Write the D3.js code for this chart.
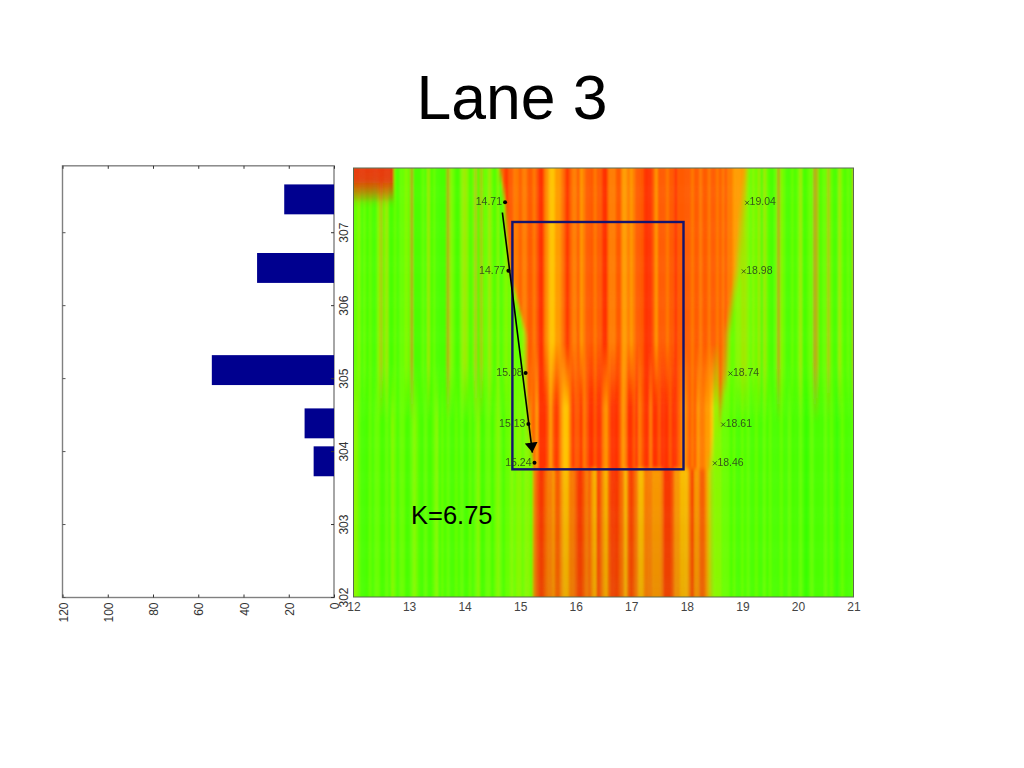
<!DOCTYPE html>
<html><head><meta charset="utf-8">
<script src="https://cdn.jsdelivr.net/npm/d3@7/dist/d3.min.js"></script>
<style>html,body{margin:0;padding:0;background:#fff}svg{display:block}text{font-family:"Liberation Sans",Arial,sans-serif}</style>
</head><body><div id="c"></div>
<script>
const chartTitle = "Lane 3";
const slopeLabel = "K=6.75";
const barTicks = [0,20,40,60,80,100,120];
const yTicks = [302,303,304,305,306,307];
const xTicks = [12,13,14,15,16,17,18,19,20,21];
const barPositions = [307.45,306.51,305.11,304.38,303.86];
const barValues = [22,34,54,13,9];
const barThickness = 0.41;
const leftEdgeY = [307.41,306.47,305.07,304.37,303.84];
const leftEdgeX = [14.71,14.77,15.08,15.13,15.24];
const rightEdgeX = [19.04,18.98,18.74,18.61,18.46];
const boxX = [14.86,17.94];
const boxY = [303.75,307.14];
const arrowFrom = [14.68,307.27];
const arrowTo = [15.22,303.98];
// band outline used by the heat field
const bandY = [307.88,307.41,306.47,305.6,305.07,304.37,303.84,302];
const bandLeft = [14.6,14.7,14.78,15.07,15.07,15.13,15.2,15.2];
const bandRight = [19.15,19.08,18.98,18.8,18.76,18.62,18.5,18.5];
// stripes, 0.05 apart
const greenUpperL = [2,2,3,1,2,1,2,1,1,3,5,2,4,1,1,2,1,2,2,3,2,6,1,1,1,2,1,4,1,2,1,1,1,1,6,3,2,1,1,3,4,3,1,2,5,1,5,2,2,4,2,1,3,1,2,3,2,3,2,2,2,3,3,3,3,3];
const greenUpperR = [2,2,2,2,2,3,3,3,2,2,3,3,4,4,3,2,3,2,4,1,4,2,1,1,2,6,3,2,1,1,2,1,2,4,1,1,2,2,6,5,1,2,2,5,2,1,1,4,2,1,2,1,5,2,2,4];
const greenLowerL = [3,3,2,1,1,1,2,1,2,2,1,1,2,1,3,2,1,2,2,1,1,2,3,2,1,1,2,1,1,2,3,1,2,1,2,1,1,2,1,2,1,1,2,1,2,3,1,1,2,2,1,2,3,2,1,2,2,3,2,3,3,2,3,3,2,3];
const greenLowerR = [3,3,3,3,3,2,2,2,1,2,1,1,2,1,2,1,1,2,1,1,2,1,2,1,1,1,2,1,1,2,1,1,1,2,1,0,1,2,1,1,1,1,2,1,2,1,0,1,2,1,1,1,2,1,1,3];
const redTop = [6,7,7,8,8,9,8,8,7,7,8,7,7,8,8,7,8,9,9,7,6,5,5,6,6,7,8,9,8,7,7,8,6,7,8,8,8,7,8,8,9,9,7,7,7,8,8,6,6,7,6,7,8,8,8,9,9,9,8,6,8,8,8,7,8,8,9,8,8,8,8,8,7,8,8,7,8,8,7,8,8,7,8,7,8,7,7,6,6,6,6,6,4];
const redMid = [7,8,6,9,9,9,8,6,8,9,8,6,5,5,7,9,8,8,9,7,8,9,9,8,9,9,7,6,8,9,9,9,8,6,7,9,9,8,9,7,8,9,9,7,9,9,8,9,9,9,8,9,9,8,7,6,7,8,7,8,6,7,7,6,6,5,3];
const redLow = [7,7,8,9,9,8,7,7,6,8,8,6,5,5,7,7,8,9,9,8,7,8,6,5,9,8,6,5,8,9,9,9,8,7,5,8,9,8,7,5,5,7,7,7,6,6,6,7,9,9,9,8,6,6,5,5,5,7,9,6,6,8,8,6,5,4,3];
const patchY = [307.88,307.72,307.6,307.5,307.38];
const patchMix = [1,0.95,0.72,0.42,0];
const patchEndX = 12.75;
const hotColors = ["#20ff00","#48ff00","#78ff00","#a0ee00","#c8c400","#ffc400","#ff9c00","#ff7c00","#ff5a00","#ff3000"];
const greenColors = ["#30ff00","#48ff00","#68ff00","#88f800","#a0e800","#b0c810","#b8a418"];

const W=1024,H=768;
const svg=d3.select("#c").append("svg").attr("width",W).attr("height",H);
svg.append("text").attr("x",512).attr("y",119).attr("text-anchor","middle").attr("font-size",62.5).attr("fill","#000").text(chartTitle);

const x=d3.scaleLinear().domain([12,21]).range([353.5,853.5]);
const y=d3.scaleLinear().domain([302,307.88]).range([597,168]);
const bx=d3.scaleLinear().domain([0,120]).range([334,62.5]);
const barTop=y(307.91);

// ---- bar panel
svg.append("rect").attr("x",bx(120)).attr("y",barTop).attr("width",bx(0)-bx(120)).attr("height",y(302)+.5-barTop)
  .attr("fill","#fff").attr("stroke","#808080").attr("stroke-width",1.4);
svg.selectAll(".bar").data(barValues).join("rect").attr("class","bar")
  .attr("x",d=>bx(d)).attr("width",d=>bx(0)-bx(d))
  .attr("y",(d,i)=>y(barPositions[i]+barThickness/2))
  .attr("height",y(0)-y(barThickness)).attr("fill","#00008f");

const axisText=g=>g.selectAll("text").attr("fill","#333").attr("font-size",12).attr("font-family","Liberation Sans, Arial, sans-serif");
const gBarX=svg.append("g").attr("transform",`translate(0,${y(302)+.5})`)
  .call(d3.axisBottom(bx).tickValues(barTicks).tickFormat(d3.format("d")).tickSize(-3).tickPadding(0));
gBarX.select(".domain").remove(); gBarX.selectAll("line").attr("stroke","#333");
axisText(gBarX); gBarX.selectAll("text").attr("text-anchor","end").attr("dy",0).attr("y",0).attr("x",0)
  .attr("transform","translate(4.5,5) rotate(-90)");
const gBarTop=svg.append("g").attr("transform",`translate(0,${barTop})`)
  .call(d3.axisTop(bx).tickValues(barTicks).tickFormat("").tickSize(-3));
gBarTop.select(".domain").remove(); gBarTop.selectAll("line").attr("stroke","#333");
const gBarY=svg.append("g").attr("transform",`translate(${bx(0)},0)`)
  .call(d3.axisRight(y).tickValues(yTicks).tickFormat(d3.format("d")).tickSize(-3));
gBarY.select(".domain").remove(); gBarY.selectAll("line").attr("stroke","#333");
axisText(gBarY); gBarY.selectAll("text").attr("text-anchor","middle").attr("x",0).attr("y",0).attr("dy",0)
  .attr("transform","translate(14,0) rotate(-90)");
const gBarL=svg.append("g").attr("transform",`translate(${bx(120)},0)`)
  .call(d3.axisLeft(y).tickValues(yTicks).tickFormat("").tickSize(-3));
gBarL.select(".domain").remove(); gBarL.selectAll("line").attr("stroke","#555");

// ---- heat field
const hot=d3.scaleLinear().domain(d3.range(hotColors.length)).range(hotColors).interpolate(d3.interpolateRgb);
const grn=d3.scaleLinear().domain(d3.range(greenColors.length)).range(greenColors).interpolate(d3.interpolateRgb);
const L=d3.scaleLinear().domain(bandY).range(bandLeft).clamp(true);
const R=d3.scaleLinear().domain(bandY).range(bandRight).clamp(true);
const P=d3.scaleLinear().domain(patchY).range(patchMix).clamp(true);
const pick=(arr,start,v)=>arr[Math.max(0,Math.min(arr.length-1,Math.round((v-start)/0.05)))];
const clamp01=t=>Math.max(0,Math.min(1,t));
const muted=(c,t)=>d3.interpolateRgb(c,"#b87010")(t);
function heat(vx,vy){
  const gu=grn(pick(vx<17?greenUpperL:greenUpperR,vx<17?12:18.4,vx));
  const gl=grn(pick(vx<17?greenLowerL:greenLowerR,vx<17?12:18.4,vx));
  const green=d3.interpolateRgb(gl,gu)(clamp01((vy-304.4)/0.8));
  let red;
  if(vy<303.78){
    red=muted(hot(pick(redLow,15.2,vx)),0.08+0.22*(303.78-vy)/1.78);
  }else{
    const top=hot(pick(redTop,14.5,vx));
    const mid=(vx>=15.2&&vx<=18.55)?hot(pick(redMid,15.2,vx)):top;
    red=d3.interpolateRgb(mid,top)(clamp01((vy-304.6)/0.9));
  }
  const w=Math.min(clamp01((vx-L(vy))/0.06),clamp01((R(vy)-vx)/0.14));
  let c=d3.interpolateRgb(green,red)(w);
  if(vx<patchEndX){ const m=P(vy); if(m>0) c=d3.interpolateRgb(c,"#e83a08")(m); }
  return c;
}
const cols=d3.range(11.95,21.05,0.05), rows=d3.range(301.96,307.96,0.08);
const cells=[]; rows.forEach(r=>cols.forEach(c=>cells.push({c,r})));
const defs=svg.append("defs");
defs.append("clipPath").attr("id","hc").append("rect").attr("x",x(12)).attr("y",y(307.88)).attr("width",x(21)-x(12)).attr("height",y(302)-y(307.88));
defs.append("filter").attr("id","soft").attr("x","-2%").attr("y","-2%").attr("width","104%").attr("height","104%")
  .append("feGaussianBlur").attr("stdDeviation","0.8 2");
svg.append("g").attr("clip-path","url(#hc)").append("g").attr("filter","url(#soft)")
  .selectAll("rect").data(cells).join("rect")
  .attr("x",d=>x(d.c-0.025)).attr("width",x(0.05)-x(0)+0.4)
  .attr("y",d=>y(d.r+0.04)).attr("height",y(0)-y(0.08)+0.4)
  .attr("fill",d=>heat(d.c,d.r));
svg.append("rect").attr("x",x(12)).attr("y",y(307.88)).attr("width",x(21)-x(12)).attr("height",y(302)-y(307.88))
  .attr("fill","none").attr("stroke","#5a6a50").attr("stroke-width",1);
const gHeatX=svg.append("g").attr("transform",`translate(0,${y(302)})`)
  .call(d3.axisBottom(x).tickValues(xTicks).tickFormat(d3.format("d")).tickSize(0).tickPadding(5));
gHeatX.select(".domain").remove(); axisText(gHeatX); gHeatX.selectAll("text").attr("fill","#444").attr("y",14).attr("dy",0);

// ---- box, arrow, markers
const navy="#14146e";
svg.append("rect").attr("x",x(boxX[0])).attr("y",y(boxY[1])).attr("width",x(boxX[1])-x(boxX[0])).attr("height",y(boxY[0])-y(boxY[1]))
  .attr("fill","none").attr("stroke",navy).attr("stroke-width",2.4);
defs.append("marker").attr("id","ah").attr("viewBox","0 0 10 10").attr("refX",10).attr("refY",5).attr("markerWidth",10).attr("markerHeight",13)
  .attr("markerUnits","userSpaceOnUse").attr("orient","auto").attr("preserveAspectRatio","none")
  .append("path").attr("d","M0,0L10,5L0,10Z").attr("fill","#000");
svg.append("line").attr("x1",x(arrowFrom[0])).attr("y1",y(arrowFrom[1])).attr("x2",x(arrowTo[0])).attr("y2",y(arrowTo[1]))
  .attr("stroke","#000").attr("stroke-width",1.6).attr("marker-end","url(#ah)");

svg.selectAll(".ld").data(leftEdgeX).join("circle").attr("class","ld")
  .attr("cx",d=>x(d)+1).attr("cy",(d,i)=>y(leftEdgeY[i])).attr("r",2).attr("fill","#000");
svg.selectAll(".lt").data(leftEdgeX).join("text").attr("class","lt")
  .attr("x",d=>x(d)-2).attr("y",(d,i)=>y(leftEdgeY[i])+3).attr("text-anchor","end").attr("font-size",10.5).attr("fill","#2a3a20").attr("opacity",.85)
  .text(d=>d.toFixed(2));
svg.selectAll(".rx").data(rightEdgeX).join("path").attr("class","rx")
  .attr("d",(d,i)=>{const a=x(d)+2.5,b=y(leftEdgeY[i])+.5;return `M${a-2},${b-2}L${a+2},${b+2}M${a-2},${b+2}L${a+2},${b-2}`;})
  .attr("stroke","#2a3a20").attr("stroke-width",.8).attr("fill","none");
svg.selectAll(".rt").data(rightEdgeX).join("text").attr("class","rt")
  .attr("x",d=>x(d)+5).attr("y",(d,i)=>y(leftEdgeY[i])+3).attr("font-size",10.5).attr("fill","#2a3a20").attr("opacity",.85)
  .text(d=>d.toFixed(2));
svg.append("text").attr("x",411).attr("y",524).attr("font-size",25.5).attr("fill","#000").text(slopeLabel);
</script></body></html>
